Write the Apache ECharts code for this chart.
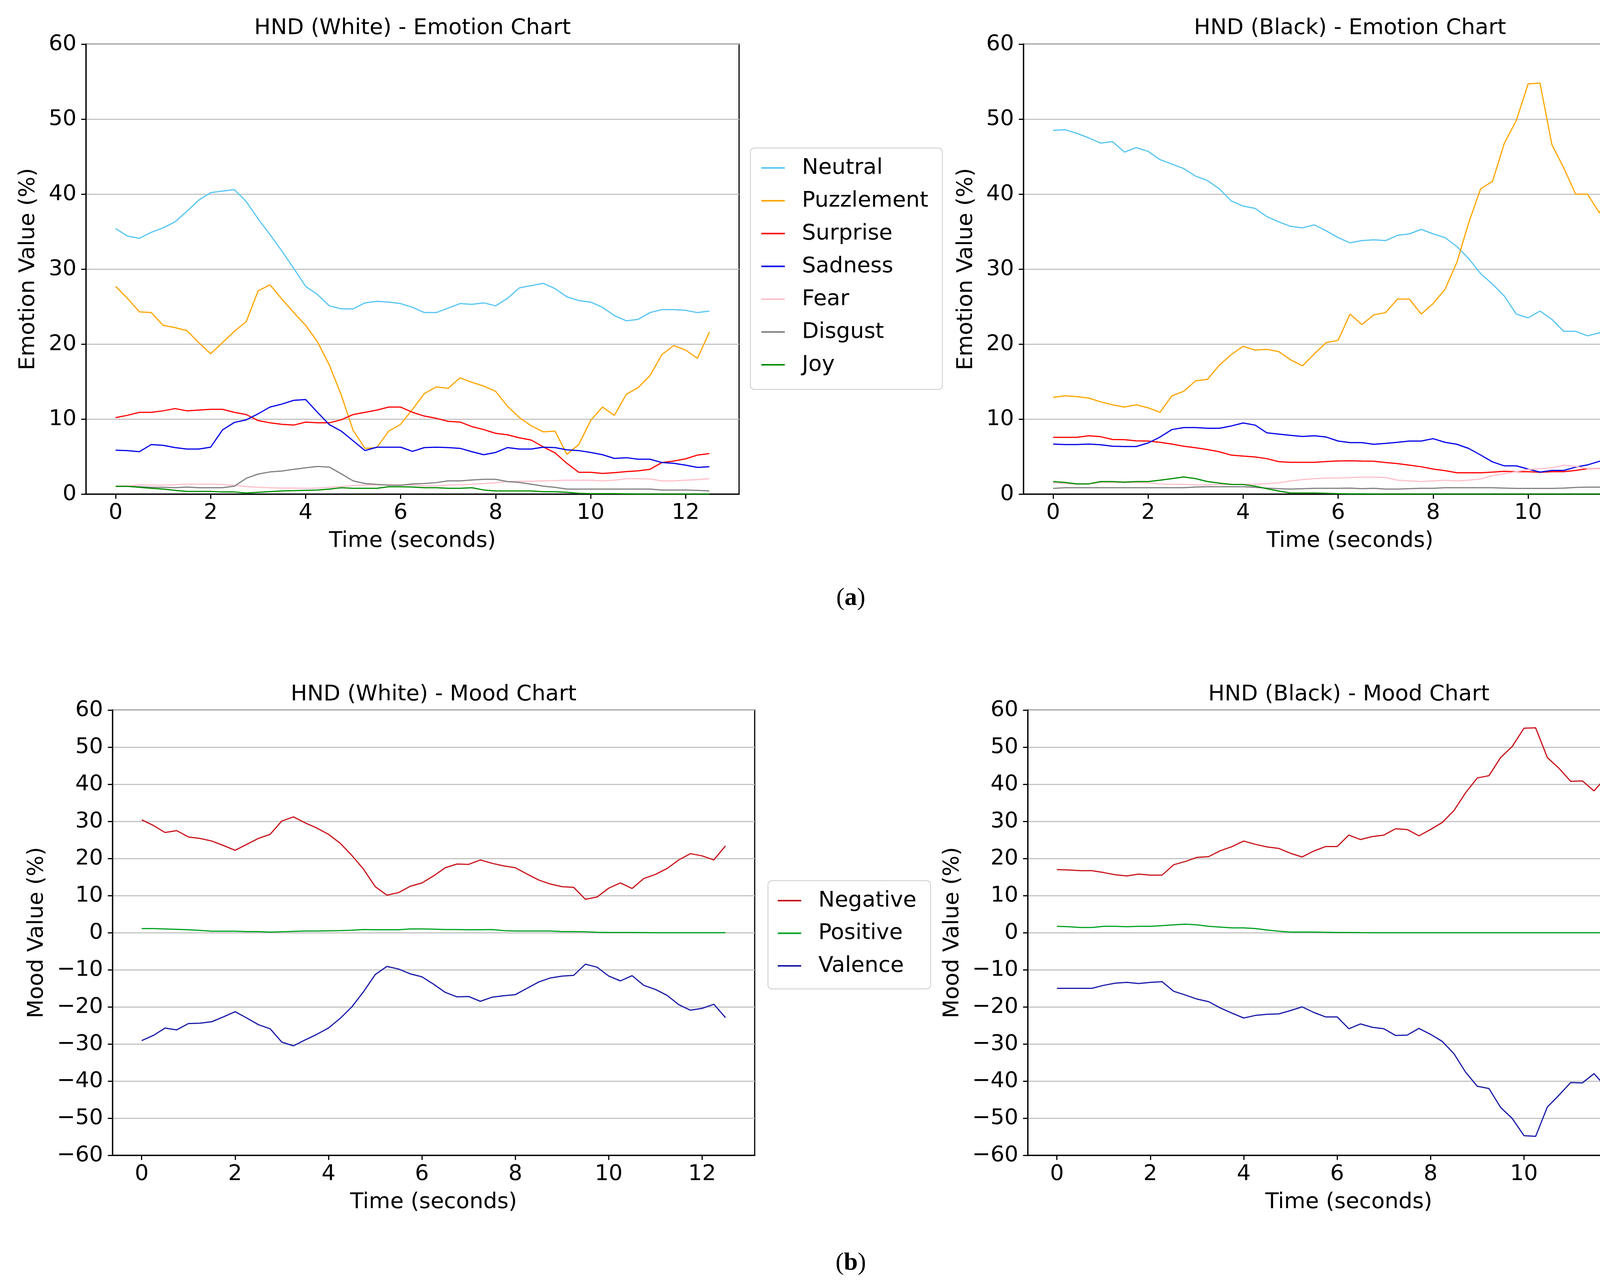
<!DOCTYPE html>
<html>
<head>
<meta charset="utf-8">
<script src="https://cdn.jsdelivr.net/npm/echarts@6/dist/echarts.min.js"></script>
<style>
html,body{margin:0;padding:0;background:#fff;}
#chart{width:4350px;height:3285px;}
</style>
</head>
<body>
<div id="chart"></div>
<script>
// ---------------- DATA ----------------
const times = [0,0.25,0.5,0.75,1,1.25,1.5,1.75,2,2.25,2.5,2.75,3,3.25,3.5,3.75,4,4.25,4.5,4.75,5,5.25,5.5,5.75,6,6.25,6.5,6.75,7,7.25,7.5,7.75,8,8.25,8.5,8.75,9,9.25,9.5,9.75,10,10.25,10.5,10.75,11,11.25,11.5,11.75,12,12.25,12.5];
const xTicks = [0,2,4,6,8,10,12];
const emotionNames = ['Neutral','Puzzlement','Surprise','Sadness','Fear','Disgust','Joy'];
const moodNames = ['Negative','Positive','Valence'];
const chartTitles = ['HND (White) - Emotion Chart','HND (Black) - Emotion Chart','HND (White) - Mood Chart','HND (Black) - Mood Chart'];

// HND (White) - Emotion
const neutralW = [35.4,34.4,34.1,34.9,35.5,36.3,37.7,39.2,40.2,40.4,40.6,39.0,36.7,34.6,32.4,30.1,27.7,26.6,25.1,24.7,24.7,25.5,25.7,25.6,25.4,24.9,24.2,24.2,24.8,25.4,25.3,25.5,25.1,26.1,27.5,27.8,28.1,27.4,26.3,25.8,25.6,24.9,23.8,23.1,23.3,24.2,24.6,24.6,24.5,24.2,24.4];
const puzzW = [27.7,26.1,24.3,24.2,22.5,22.2,21.8,20.2,18.7,20.2,21.7,23.0,27.1,27.9,26.0,24.2,22.5,20.3,17.2,13.2,8.5,6.1,6.2,8.4,9.3,11.3,13.4,14.3,14.1,15.5,14.9,14.4,13.7,11.7,10.2,9.1,8.3,8.4,5.3,6.6,9.8,11.6,10.5,13.3,14.2,15.8,18.6,19.8,19.2,18.1,21.6];
const surpW = [10.2,10.5,10.9,10.9,11.1,11.4,11.1,11.2,11.3,11.3,10.9,10.6,9.8,9.5,9.3,9.2,9.6,9.5,9.5,9.9,10.6,10.9,11.2,11.6,11.6,10.9,10.4,10.1,9.7,9.6,9.0,8.6,8.1,7.9,7.5,7.2,6.3,5.5,4.1,2.9,2.9,2.75,2.85,3.0,3.1,3.3,4.2,4.4,4.7,5.2,5.4];
const sadW = [5.85,5.8,5.65,6.6,6.5,6.2,6.0,6.0,6.25,8.55,9.55,9.9,10.7,11.6,12.0,12.5,12.6,10.9,9.25,8.4,7.1,5.8,6.25,6.25,6.25,5.7,6.2,6.25,6.2,6.1,5.65,5.25,5.55,6.2,6.0,6.0,6.25,6.2,5.9,5.8,5.55,5.25,4.75,4.85,4.65,4.65,4.2,4.1,3.85,3.55,3.65];
const fearW = [1.06,1.06,1.24,1.2,1.2,1.24,1.32,1.32,1.32,1.28,1.15,1.0,0.9,0.85,0.8,0.8,0.77,0.8,0.9,1.0,1.15,1.2,1.24,1.24,1.2,1.2,1.1,1.1,1.2,1.24,1.3,1.4,1.5,1.67,1.7,1.7,1.76,1.8,1.85,1.85,1.85,1.76,1.85,2.05,2.05,2.0,1.76,1.76,1.85,1.93,2.05];
const disgW = [1.03,1.03,0.98,0.9,0.9,0.85,0.94,0.85,0.85,0.85,1.06,2.1,2.67,2.95,3.07,3.3,3.5,3.68,3.6,2.7,1.76,1.41,1.29,1.18,1.18,1.35,1.41,1.53,1.76,1.76,1.88,1.97,1.97,1.67,1.55,1.32,1.06,0.9,0.66,0.66,0.66,0.66,0.66,0.66,0.66,0.66,0.54,0.54,0.54,0.5,0.42];
const joyW = [1.03,1.03,0.9,0.77,0.66,0.5,0.35,0.35,0.35,0.28,0.28,0.14,0.24,0.33,0.42,0.45,0.5,0.54,0.66,0.84,0.77,0.77,0.77,0.98,0.98,0.94,0.85,0.85,0.77,0.77,0.85,0.54,0.42,0.42,0.42,0.42,0.31,0.31,0.24,0.1,0.05,0.05,0.05,0.03,0,0,0,0,0,0,0];

// HND (Black) - Emotion
const neutralB = [48.5,48.6,48.1,47.5,46.8,47.0,45.6,46.2,45.7,44.6,44.0,43.4,42.4,41.8,40.7,39.1,38.4,38.1,37.0,36.3,35.7,35.5,35.9,35.1,34.2,33.5,33.8,33.9,33.8,34.5,34.7,35.3,34.7,34.2,33.0,31.4,29.4,28.0,26.4,24.0,23.5,24.4,23.3,21.7,21.7,21.1,21.5,21.4,21.6,20.3,20.3];
const puzzB = [12.9,13.1,13.0,12.8,12.3,11.9,11.6,11.9,11.5,10.9,13.1,13.7,15.1,15.3,17.2,18.6,19.7,19.2,19.3,19.0,17.9,17.1,18.7,20.2,20.5,24.0,22.6,23.9,24.2,26.0,26.0,24.0,25.4,27.3,30.9,36.2,40.7,41.7,46.8,49.8,54.7,54.8,46.6,43.5,40.0,40.0,37.5,41.2,40.0,34.3,40.0];
const surpB = [7.56,7.56,7.56,7.77,7.65,7.28,7.25,7.1,7.07,6.9,6.67,6.38,6.17,5.94,5.64,5.19,5.07,4.95,4.72,4.32,4.23,4.23,4.23,4.34,4.42,4.44,4.4,4.37,4.2,4.06,3.85,3.64,3.33,3.12,2.84,2.84,2.84,2.93,3.03,2.98,2.98,2.9,2.98,2.98,3.15,3.38,3.41,3.45,3.45,3.8,4.15];
const sadB = [6.67,6.6,6.6,6.67,6.58,6.38,6.34,6.34,6.81,7.6,8.6,8.87,8.87,8.78,8.78,9.08,9.48,9.2,8.17,8.0,7.82,7.68,7.77,7.6,7.07,6.86,6.86,6.64,6.76,6.9,7.07,7.07,7.39,6.9,6.64,6.08,5.21,4.29,3.76,3.76,3.33,2.93,3.15,3.15,3.59,3.89,4.37,4.58,4.58,4.67,4.23];
const fearB = [1.5,1.41,1.32,1.36,1.55,1.55,1.53,1.55,1.5,1.36,1.29,1.29,1.22,1.22,1.29,1.29,1.29,1.32,1.38,1.5,1.76,1.93,2.06,2.14,2.14,2.2,2.25,2.25,2.2,1.85,1.76,1.67,1.76,1.85,1.76,1.85,2.02,2.46,2.72,2.98,3.28,3.38,3.5,3.85,3.68,3.41,3.38,3.24,3.01,3.19,3.19];
const disgB = [0.75,0.85,0.85,0.85,0.85,0.85,0.85,0.85,0.85,0.85,0.85,0.85,0.94,0.98,0.98,0.98,0.98,0.9,0.8,0.71,0.66,0.71,0.77,0.77,0.77,0.8,0.71,0.77,0.66,0.66,0.71,0.77,0.77,0.84,0.84,0.84,0.84,0.84,0.8,0.75,0.75,0.75,0.75,0.8,0.89,0.92,0.92,0.98,1.06,1.15,1.15];
const joyB = [1.67,1.55,1.36,1.36,1.67,1.67,1.59,1.67,1.67,1.85,2.06,2.28,2.06,1.67,1.46,1.29,1.27,1.06,0.71,0.4,0.14,0.14,0.14,0.1,0.05,0.03,0.02,0,0,0,0,0,0,0,0,0,0,0,0,0,0,0,0,0,0,0,0,0,0,0,0];

// HND (White) - Mood
const negW = [30.4,28.9,27.0,27.5,25.8,25.4,24.7,23.5,22.2,23.8,25.4,26.5,30.1,31.2,29.6,28.2,26.5,24.1,20.8,17.1,12.4,10.1,10.8,12.5,13.4,15.3,17.5,18.5,18.4,19.6,18.7,18.0,17.5,15.8,14.2,13.1,12.4,12.2,9.0,9.6,12.0,13.4,11.9,14.6,15.7,17.3,19.6,21.3,20.7,19.6,23.4];
const posW = [1.1,1.1,1.0,0.9,0.8,0.6,0.4,0.4,0.4,0.3,0.3,0.15,0.25,0.35,0.45,0.45,0.5,0.55,0.65,0.85,0.8,0.8,0.8,1.0,1.0,0.95,0.85,0.85,0.8,0.8,0.85,0.55,0.45,0.45,0.45,0.45,0.3,0.3,0.25,0.1,0.05,0.05,0.05,0.03,0,0,0,0,0,0,0];
const valW = [-29.1,-27.7,-25.7,-26.2,-24.5,-24.4,-24.0,-22.7,-21.3,-23.0,-24.8,-25.9,-29.5,-30.5,-28.9,-27.4,-25.7,-23.1,-20.0,-15.9,-11.3,-9.1,-9.8,-11.1,-11.9,-13.9,-16.1,-17.3,-17.2,-18.5,-17.4,-17.0,-16.7,-15.0,-13.3,-12.2,-11.7,-11.5,-8.5,-9.3,-11.7,-13.0,-11.6,-14.2,-15.3,-16.9,-19.4,-20.9,-20.4,-19.3,-22.9];

// HND (Black) - Mood
const negB = [17.0,16.9,16.7,16.7,16.2,15.6,15.3,15.8,15.5,15.5,18.3,19.2,20.3,20.5,22.1,23.2,24.7,23.8,23.1,22.7,21.4,20.4,22.0,23.2,23.2,26.3,25.1,25.9,26.3,28.0,27.8,26.1,27.8,29.7,32.9,37.7,41.7,42.3,47.2,50.2,55.1,55.2,47.2,44.3,40.8,40.9,38.2,41.8,40.8,35.1,40.3];
const posB = [1.7,1.6,1.4,1.4,1.7,1.7,1.6,1.7,1.7,1.9,2.1,2.3,2.1,1.7,1.5,1.3,1.3,1.1,0.7,0.4,0.15,0.15,0.15,0.1,0.05,0.05,0.02,0,0,0,0,0,0,0,0,0,0,0,0,0,0,0,0,0,0,0,0,0,0,0,0];
const valB = [-15.0,-15.0,-15.0,-15.0,-14.2,-13.6,-13.4,-13.7,-13.4,-13.2,-15.8,-16.8,-17.9,-18.6,-20.3,-21.7,-23.0,-22.3,-22.0,-21.9,-21.0,-20.0,-21.5,-22.7,-22.7,-25.9,-24.6,-25.5,-25.9,-27.7,-27.6,-25.8,-27.4,-29.3,-32.6,-37.6,-41.4,-42.0,-47.1,-50.1,-54.7,-54.9,-47.0,-43.8,-40.4,-40.5,-38.0,-41.5,-40.4,-34.8,-40.0];

// ---------------- STYLE ----------------
const emotionColors = ['#56c5f3','#ffa500','#ff0000','#0000e6','#ffc0cb','#808080','#008c00'];
const moodColors = ['#c8141c','#00a020','#1a1aa8'];
const FONT = 'DejaVu Sans';
const FS = 56;

const emotionW = [neutralW,puzzW,surpW,sadW,fearW,disgW,joyW];
const emotionB = [neutralB,puzzB,surpB,sadB,fearB,disgB,joyB];
const moodW = [negW,posW,valW];
const moodB = [negB,posB,valB];

function pairs(arr){ return times.map((t,i)=>[t,arr[i]]); }
function fmt(v){ return v < 0 ? '\u2212' + Math.abs(v) : String(v); }

const grids = [
  {left:220, top:113, width:1672, height:1152},
  {left:2620, top:113, width:1672, height:1152},
  {left:288, top:1818, width:1644, height:1140},
  {left:2631, top:1818, width:1644, height:1140}
].map(g => Object.assign(g, {show:true, borderColor:'#000', borderWidth:3, backgroundColor:'rgba(0,0,0,0)', containLabel:false}));

const yNameGaps = [120, 119, 166, 165];

const xAxes = grids.map((g,i)=>({
  type:'value', gridIndex:i, min:-0.625, max:13.125,
  axisLine:{show:true, onZero:false, lineStyle:{color:'#000', width:3}},
  axisTick:{show:true, length:12, lineStyle:{color:'#000', width:3}, customValues:xTicks},
  axisLabel:{show:true, customValues:xTicks, fontSize:FS, fontFamily:FONT, color:'#000', margin:20},
  splitLine:{show:false},
  name:'Time (seconds)', nameLocation:'middle', nameGap:92,
  nameTextStyle:{fontSize:FS, fontFamily:FONT, color:'#000'}
}));

const yAxes = grids.map((g,i)=>({
  type:'value', gridIndex:i,
  min: i < 2 ? 0 : -60, max:60, interval:10,
  axisLine:{show:true, onZero:false, lineStyle:{color:'#000', width:3}},
  axisTick:{show:true, length:12, lineStyle:{color:'#000', width:3}},
  axisLabel:{fontSize:FS, fontFamily:FONT, color:'#000', margin:24, formatter:fmt},
  splitLine:{show:true, lineStyle:{color:'#c4c4c4', width:3}},
  name: i < 2 ? 'Emotion Value (%)' : 'Mood Value (%)',
  nameLocation:'middle', nameRotate:90, nameGap:yNameGaps[i],
  nameTextStyle:{fontSize:FS, fontFamily:FONT, color:'#000'}
}));

const series = [];
function addSet(names, colors, arrays, idx){
  names.forEach((n,k)=>{
    series.push({
      type:'line', name:n, xAxisIndex:idx, yAxisIndex:idx,
      data:pairs(arrays[k]), symbol:'none', showSymbol:false,
      lineStyle:{color:colors[k], width:3}, itemStyle:{color:colors[k]},
      emphasis:{disabled:true}, animation:false, clip:true
    });
  });
}
addSet(emotionNames, emotionColors, emotionW, 0);
addSet(emotionNames, emotionColors, emotionB, 1);
addSet(moodNames, moodColors, moodW, 2);
addSet(moodNames, moodColors, moodB, 3);

const titleCenters = [[1056,44],[3456,44],[1110,1750],[3453,1750]];
const titles = chartTitles.map((t,i)=>({
  text:t, left:titleCenters[i][0], top:titleCenters[i][1], textAlign:'center', padding:0,
  textStyle:{fontSize:FS, fontWeight:'normal', fontFamily:FONT, color:'#000'}
}));

const legendCommon = {
  orient:'vertical', icon:'rect', itemWidth:60, itemHeight:4,
  backgroundColor:'rgba(255,255,255,0.8)', borderColor:'#cccccc', borderWidth:2, borderRadius:10,
  selectedMode:false,
  textStyle:{fontSize:FS, fontFamily:FONT, color:'#000', lineHeight:56, padding:[0,0,0,39]}
};

const panelLabelRich = {
  p:{fontFamily:'Liberation Serif', fontSize:64, fill:'#000'},
  b:{fontFamily:'Liberation Serif', fontSize:64, fontWeight:'bold', fill:'#000'}
};

const option = {
  backgroundColor:'#fff',
  animation:false,
  title: titles,
  grid: grids,
  xAxis: xAxes,
  yAxis: yAxes,
  legend: [
    Object.assign({}, legendCommon, {data:emotionNames, left:1921, top:379, itemGap:28, padding:[23,36,35,28]}),
    Object.assign({}, legendCommon, {data:moodNames, left:1966, top:2255, itemGap:27.5, padding:[23,36,31,25]})
  ],
  series: series,
  graphic: [
    {type:'text', x:2178, y:1532, style:{text:'{p|(}{b|a}{p|)}', align:'center', verticalAlign:'middle', rich:panelLabelRich}},
    {type:'text', x:2178, y:3234, style:{text:'{p|(}{b|b}{p|)}', align:'center', verticalAlign:'middle', rich:panelLabelRich}}
  ]
};

const chart = echarts.init(document.getElementById('chart'), null, {renderer:'canvas', devicePixelRatio:1});
chart.setOption(option);
</script>
</body>
</html>
